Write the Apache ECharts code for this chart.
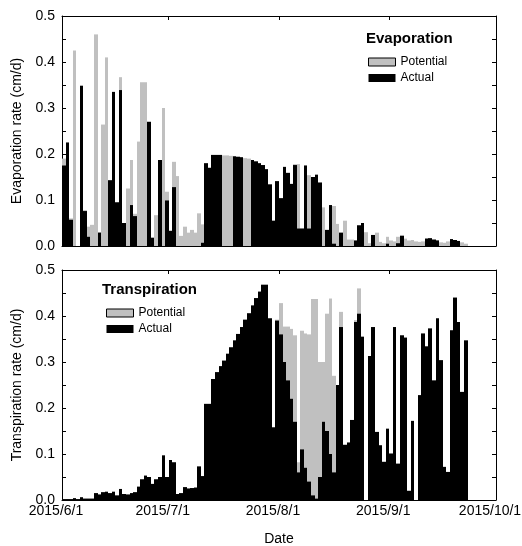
<!DOCTYPE html>
<html>
<head>
<meta charset="utf-8">
<script src="https://cdn.jsdelivr.net/npm/echarts@6/dist/echarts.min.js"></script>
<style>
  html, body { margin: 0; padding: 0; background: #fff; }
  #main { width: 522px; height: 546px; }
</style>
</head>
<body>
<div id="main"></div>
<script>
// days counted from 2015/6/1, one value per day
var tickDays = [0, 30, 61, 92, 122];
var tickLabels = ['2015/6/1', '2015/7/1', '2015/8/1', '2015/9/1', '2015/10/1'];

var evapPotential = [
  0.19, 0.225, 0.06, 0.425, 0, 0.35, 0.078, 0.042, 0.046, 0.46,
  0.03, 0.264, 0.41, 0.143, 0.335, 0.095, 0.367, 0.05, 0.125, 0.187,
  0.07, 0.227, 0.356, 0.356, 0.27, 0.018, 0.067, 0.187, 0.30, 0.118,
  0.033, 0.183, 0.152, 0.022, 0.042, 0.029, 0.035, 0.029, 0.071, 0.047,
  0.18, 0.17, 0.198, 0.198, 0.198, 0.197, 0.197, 0.196, 0.195, 0.194,
  0.193, 0.191, 0.19, 0.187, 0.184, 0.18, 0.176, 0.167, 0.134, 0.055,
  0.141, 0.104, 0.172, 0.159, 0.135, 0.178, 0.178, 0.038, 0.175, 0.154,
  0.15, 0.155, 0.138, 0.084, 0.035, 0.089, 0.087, 0.048, 0.029, 0.055,
  0.014, 0.014, 0.012, 0.045, 0.05, 0.03, 0.006, 0.024, 0.029, 0.009,
  0.006, 0.02, 0.012, 0.01, 0.02, 0.024, 0.016, 0.012, 0.013, 0.01,
  0.009, 0.01, 0.017, 0.017, 0.014, 0.013, 0.008, 0.007, 0.01, 0.015,
  0.013, 0.011, 0.008, 0.005
];
var evapActual = [
  0.175, 0.225, 0.057, 0, 0, 0.348, 0.076, 0.02, 0, 0,
  0.029, 0, 0, 0.143, 0.335, 0.095, 0.339, 0.05, 0, 0.089,
  0.065, 0, 0, 0, 0.27, 0.018, 0, 0.187, 0, 0.099,
  0.033, 0.128, 0, 0, 0, 0, 0, 0, 0, 0.007,
  0.18, 0.17, 0.198, 0.198, 0.198, 0, 0, 0, 0.195, 0.194,
  0.193, 0, 0, 0.187, 0.184, 0.18, 0.176, 0.167, 0.134, 0.055,
  0.141, 0.104, 0.172, 0.159, 0.135, 0.176, 0.038, 0.038, 0.175, 0.038,
  0.15, 0.155, 0.138, 0, 0.035, 0.089, 0.005, 0, 0.029, 0,
  0, 0, 0.012, 0.045, 0.05, 0, 0, 0.024, 0, 0,
  0, 0.005, 0, 0, 0.006, 0.022, 0, 0, 0, 0,
  0, 0, 0.016, 0.017, 0.014, 0.012, 0, 0, 0, 0.015,
  0.013, 0.011, 0, 0
];

var transPotential = [
  0.002, 0.002, 0.002, 0.004, 0.002, 0.006, 0.003, 0.003, 0.003, 0.015,
  0.012, 0.017, 0.018, 0.015, 0.018, 0.01, 0.024, 0.013, 0.012, 0.015,
  0.017, 0.029, 0.045, 0.053, 0.05, 0.035, 0.045, 0.05, 0.097, 0.05,
  0.087, 0.082, 0.013, 0.015, 0.028, 0.025, 0.026, 0.027, 0.073, 0.052,
  0.209, 0.209, 0.263, 0.278, 0.291, 0.303, 0.318, 0.332, 0.347, 0.361,
  0.376, 0.392, 0.406, 0.423, 0.439, 0.453, 0.468, 0.468, 0.395, 0.158,
  0.392, 0.428, 0.377, 0.377, 0.372, 0.358, 0.082, 0.368, 0.362, 0.36,
  0.437, 0.437, 0.30, 0.30, 0.405, 0.438, 0.27, 0.25, 0.409, 0.12,
  0.125, 0.174, 0.391, 0.46, 0.355, 0, 0.313, 0.376, 0.148, 0.119,
  0.083, 0.155, 0.101, 0.376, 0.079, 0.358, 0.353, 0.02, 0.172, 0,
  0.228, 0.362, 0.334, 0.373, 0.26, 0.395, 0.304, 0.072, 0.061, 0.369,
  0.44, 0.387, 0.235, 0.347
];
var transActual = [
  0.002, 0.002, 0.002, 0.004, 0.002, 0.006, 0.003, 0.003, 0.003, 0.015,
  0.012, 0.017, 0.018, 0.015, 0.018, 0.01, 0.024, 0.013, 0.012, 0.015,
  0.017, 0.029, 0.045, 0.053, 0.05, 0.035, 0.045, 0.05, 0.097, 0.05,
  0.087, 0.082, 0.013, 0.015, 0.028, 0.025, 0.026, 0.027, 0.073, 0.052,
  0.209, 0.209, 0.263, 0.278, 0.291, 0.303, 0.318, 0.332, 0.347, 0.361,
  0.376, 0.392, 0.406, 0.423, 0.439, 0.453, 0.468, 0.468, 0.395, 0.158,
  0.39, 0.36, 0.30, 0.26, 0.22, 0.17, 0.06, 0.11, 0.07, 0.04,
  0.01, 0.003, 0.05, 0.17, 0.15, 0.10, 0.06, 0.25, 0.376, 0.12,
  0.125, 0.174, 0.387, 0.405, 0.355, 0, 0.313, 0.376, 0.148, 0.119,
  0.083, 0.155, 0.101, 0.376, 0.079, 0.358, 0.353, 0.02, 0.172, 0,
  0.228, 0.362, 0.334, 0.373, 0.26, 0.395, 0.304, 0.072, 0.061, 0.369,
  0.44, 0.387, 0.235, 0.347
];

// [day, value], the bar covers that whole day
function toPoints(arr) {
  return arr.map(function (v, i) { return [i, v]; });
}

var font = 'Liberation Sans, Arial, sans-serif';
var lineStyle = { color: '#000', width: 1 };

function dateAxis(grid, pos, withLabels) {
  return {
    gridIndex: grid, type: 'value', position: pos,
    min: 0, max: 122,
    axisLine: { show: true, onZero: false, lineStyle: lineStyle },
    axisTick: { show: true, inside: true, length: 4, customValues: tickDays, lineStyle: lineStyle },
    axisLabel: withLabels ? {
      show: true, customValues: tickDays, margin: 4, padding: [0, 12, 0, 0],
      color: '#000', fontSize: 14, fontFamily: font,
      formatter: function (v) { return tickLabels[tickDays.indexOf(v)]; }
    } : { show: false },
    splitLine: { show: false },
    name: withLabels ? 'Date' : '',
    nameLocation: 'middle', nameGap: 32,
    nameTextStyle: { color: '#000', fontSize: 14, fontFamily: font }
  };
}

function rateAxis(grid, pos, name) {
  var left = pos === 'left';
  return {
    gridIndex: grid, type: 'value', position: pos,
    min: 0, max: 0.5, interval: 0.1,
    axisLine: { show: true, onZero: false, lineStyle: lineStyle },
    axisTick: { show: true, inside: true, length: 4, lineStyle: lineStyle },
    minorTick: { show: true, splitNumber: 2, length: 4, lineStyle: lineStyle },
    axisLabel: left ? {
      show: true, margin: 7, color: '#000', fontSize: 14, fontFamily: font,
      formatter: function (v) { return v.toFixed(1); }
    } : { show: false },
    splitLine: { show: false },
    minorSplitLine: { show: false },
    name: left ? name : '',
    nameLocation: 'middle', nameGap: 36,
    nameTextStyle: { color: '#000', fontSize: 14, fontFamily: font }
  };
}

// daily bars drawn as rects from day start to next day start, edges snapped to pixels
function barSeries(name, x, y, arr, color) {
  return {
    type: 'custom', name: name, xAxisIndex: x, yAxisIndex: y,
    data: toPoints(arr), itemStyle: { color: color }, silent: true,
    encode: { x: 0, y: 1 },
    renderItem: function (params, api) {
      var d = api.value(0), v = api.value(1);
      if (!v) return null;
      var p0 = api.coord([d, 0]);
      var p1 = api.coord([d + 1, v]);
      var xa = Math.round(p0[0]), xb = Math.round(p1[0]);
      return {
        type: 'rect',
        shape: { x: xa, y: p1[1], width: xb - xa, height: p0[1] - p1[1] },
        style: { fill: color }
      };
    }
  };
}

var legendData = [
  { name: 'Potential', itemStyle: { color: '#c0c0c0', borderColor: '#000', borderWidth: 1 } },
  { name: 'Actual', itemStyle: { color: '#000', borderColor: '#000', borderWidth: 0 } }
];

var chart = echarts.init(document.getElementById('main'));
chart.setOption({
  animation: false,
  textStyle: { fontFamily: font },
  title: [
    { text: 'Evaporation', left: 366, top: 31, padding: 0,
      textStyle: { fontSize: 15, fontWeight: 'bold', color: '#000', fontFamily: font } },
    { text: 'Transpiration', left: 102, top: 282, padding: 0,
      textStyle: { fontSize: 15, fontWeight: 'bold', color: '#000', fontFamily: font } }
  ],
  legend: [
    { left: 368, top: 56, orient: 'vertical', padding: 0, itemGap: 4,
      itemWidth: 27, itemHeight: 8, icon: 'rect', selectedMode: false,
      textStyle: { fontSize: 12, color: '#000', fontFamily: font }, data: legendData },
    { left: 106, top: 307, orient: 'vertical', padding: 0, itemGap: 4,
      itemWidth: 27, itemHeight: 8, icon: 'rect', selectedMode: false,
      textStyle: { fontSize: 12, color: '#000', fontFamily: font }, data: legendData }
  ],
  grid: [
    { left: 62, right: 26, top: 16, height: 230, outerBoundsMode: 'none' },
    { left: 62, right: 26, top: 270, height: 230, outerBoundsMode: 'none' }
  ],
  xAxis: [
    dateAxis(0, 'bottom', false),
    dateAxis(0, 'top', false),
    dateAxis(1, 'bottom', true),
    dateAxis(1, 'top', false)
  ],
  yAxis: [
    rateAxis(0, 'left', 'Evaporation rate (cm/d)'),
    rateAxis(0, 'right', ''),
    rateAxis(1, 'left', 'Transpiration rate (cm/d)'),
    rateAxis(1, 'right', '')
  ],
  series: [
    barSeries('Potential', 0, 0, evapPotential, '#c0c0c0'),
    barSeries('Actual', 0, 0, evapActual, '#000'),
    barSeries('Potential', 2, 2, transPotential, '#c0c0c0'),
    barSeries('Actual', 2, 2, transActual, '#000')
  ]
});
</script>
</body>
</html>
